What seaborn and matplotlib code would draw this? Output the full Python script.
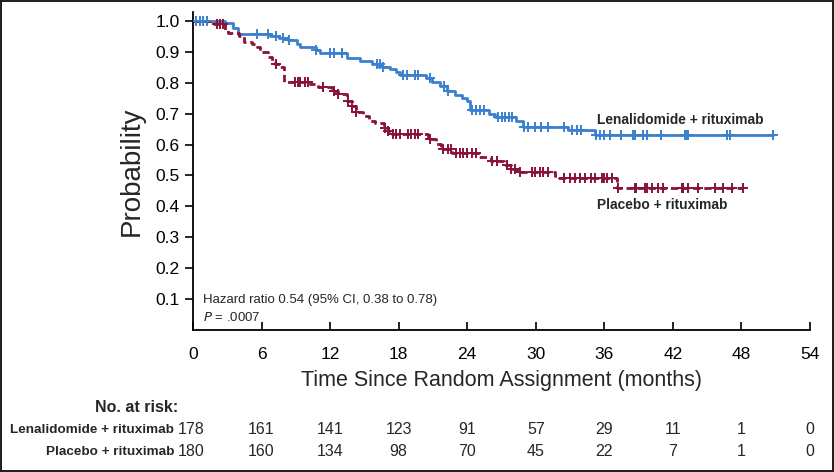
import numpy as np
import pandas as pd
import matplotlib
matplotlib.use("Agg")
import matplotlib.pyplot as plt
import seaborn as sns

# ---------------- data ----------------
len_times = [0, 2.8, 3.5, 3.9, 6.7, 7.5, 8.3, 9.1, 9.4, 10.8, 11.1, 13.5, 14.6, 15.7, 16.5,
             17.2, 17.8, 18.1, 20.4, 20.9, 21.6, 22.2, 22.9, 23.5, 24.0, 24.2, 25.9, 26.4,
             28.3, 28.9, 32.8, 35.2]
len_surv = [1.0, 0.994, 0.978, 0.958, 0.950, 0.944, 0.938, 0.925, 0.917, 0.906, 0.897, 0.880,
            0.870, 0.862, 0.852, 0.844, 0.834, 0.826, 0.815, 0.804, 0.789, 0.772, 0.760, 0.750,
            0.740, 0.713, 0.700, 0.688, 0.676, 0.658, 0.646, 0.630]
len_cens = [0.3, 0.6, 0.9, 1.2, 5.6, 6.6, 7.3, 7.9, 8.4, 10.8, 12.0, 12.3, 13.0, 16.1, 16.4,
            16.6, 18.4, 18.7, 19.4, 19.7, 20.7, 22.0, 22.3, 24.4, 24.8, 25.1, 25.5, 26.7, 27.0,
            27.3, 27.7, 27.9, 29.0, 29.3, 29.9, 30.5, 31.1, 32.5, 33.2, 33.6, 34.0, 35.3, 35.6,
            36.0, 36.5, 37.5, 38.5, 38.7, 39.4, 39.7, 41.0, 43.1, 43.2, 43.3, 46.7, 47.0, 50.8]

pla_times = [0, 1.8, 2.8, 3.1, 4.0, 4.5, 5.2, 5.6, 5.9, 6.6, 6.9, 7.2, 7.6, 8.0, 10.2, 10.9,
             12.2, 12.7, 13.5, 13.9, 14.3, 14.9, 15.4, 15.9, 16.7, 17.1, 17.4, 20.6, 21.3, 21.7,
             22.7, 24.9, 26.1, 27.2, 27.8, 28.4, 31.7, 32.0, 37.1]
pla_surv = [1.0, 0.989, 0.972, 0.961, 0.950, 0.933, 0.927, 0.915, 0.899, 0.882, 0.866, 0.860,
            0.852, 0.803, 0.797, 0.786, 0.775, 0.764, 0.741, 0.724, 0.707, 0.692, 0.676, 0.670,
            0.655, 0.643, 0.633, 0.618, 0.602, 0.586, 0.572, 0.561, 0.548, 0.535, 0.522, 0.512,
            0.498, 0.492, 0.460]
pla_cens = [2.1, 2.4, 2.6, 7.3, 8.9, 9.2, 9.4, 9.8, 10.1, 11.4, 12.3, 12.7, 13.6, 13.9, 14.3,
            16.8, 17.1, 17.5, 17.8, 18.1, 18.8, 19.1, 19.4, 19.7, 20.7, 21.9, 22.3, 22.6, 23.0,
            23.4, 23.6, 24.0, 24.4, 24.8, 26.2, 26.6, 27.5, 27.8, 28.2, 28.6, 29.7, 29.9, 30.4,
            30.6, 31.1, 32.5, 33.0, 33.4, 33.9, 34.3, 34.8, 35.2, 35.8, 36.0, 36.2, 36.7, 37.2,
            38.7, 38.8, 39.6, 39.7, 40.2, 40.7, 41.1, 42.8, 42.9, 43.3, 44.2, 45.7, 46.4, 47.2,
            48.1]

groups = ["Lenalidomide + rituximab", "Placebo + rituximab"]
risk_times = [0, 6, 12, 18, 24, 30, 36, 42, 48, 54]
risk_len = [178, 161, 141, 123, 91, 57, 29, 11, 1, 0]
risk_pla = [180, 160, 134, 98, 70, 45, 22, 7, 1, 0]
x_ticks = [0, 6, 12, 18, 24, 30, 36, 42, 48, 54]
y_ticks = [0.1, 0.2, 0.3, 0.4, 0.5, 0.6, 0.7, 0.8, 0.9, 1.0]

BLUE = "#3b80d0"
RED = "#8a1238"

# ---------------- style ----------------
sns.set_style("ticks")
plt.rcParams["font.family"] = ["Liberation Sans", "DejaVu Sans"]

fig = plt.figure(figsize=(8.34, 4.72), dpi=100)
fig.patch.set_edgecolor("#222222")
fig.patch.set_linewidth(1.5)
ax = fig.add_axes([193 / 834, (472 - 330) / 472, (810 - 193) / 834, (330 - 11.7) / 472])


def curve_df(times, surv, cens):
    t = list(times) + [max(cens)]
    s = list(surv) + [surv[-1]]
    return pd.DataFrame({"t": t, "s": s})


def cens_df(times, surv, cens):
    times = np.asarray(times)
    surv = np.asarray(surv)
    idx = np.searchsorted(times, np.asarray(cens), side="right") - 1
    return pd.DataFrame({"t": cens, "s": surv[idx]})


d_len = curve_df(len_times, len_surv, len_cens)
d_pla = curve_df(pla_times, pla_surv, pla_cens)

sns.lineplot(data=d_len, x="t", y="s", ax=ax, color=BLUE, lw=2, drawstyle="steps-post",
             estimator=None, sort=False)
sns.lineplot(data=d_pla, x="t", y="s", ax=ax, color=RED, lw=2, drawstyle="steps-post",
             estimator=None, sort=False, linestyle=(0, (2.6, 1.4)))

c_len = cens_df(len_times, len_surv, len_cens)
c_pla = cens_df(pla_times, pla_surv, pla_cens)
sns.scatterplot(data=c_len, x="t", y="s", ax=ax, marker="+", color=BLUE, s=45, linewidth=1.4,
                zorder=3)
sns.scatterplot(data=c_pla, x="t", y="s", ax=ax, marker="+", color=RED, s=45, linewidth=1.4,
                zorder=3)

ax.set_xlim(0, 54)
ax.set_ylim(0, 1.03)
ax.set_xticks(x_ticks)
ax.set_yticks(y_ticks)
ax.set_yticklabels([f"{v:.1f}" for v in y_ticks])
ax.tick_params(axis="x", direction="in", length=6, width=1.2, labelsize=12.5, pad=12, colors="black")
ax.tick_params(axis="y", direction="out", length=6, width=1.2, labelsize=12.5, colors="black")
for sp in ["top", "right"]:
    ax.spines[sp].set_visible(False)
for sp in ["left", "bottom"]:
    ax.spines[sp].set_linewidth(1.3)
    ax.spines[sp].set_color("black")

ax.set_xlabel("Time Since Random Assignment (months)", fontsize=15.5, labelpad=6)
ax.set_ylabel("Probability", fontsize=20, labelpad=8)

ax.text(35.4, 0.68, groups[0], fontsize=9.9, fontweight="bold", va="center", ha="left")
ax.text(35.4, 0.405, groups[1], fontsize=9.9, fontweight="bold", va="center", ha="left")
ax.text(0.85, 0.097, "Hazard ratio 0.54 (95% CI, 0.38 to 0.78)", fontsize=9.5, va="center")
ax.text(0.85, 0.039, "$\\it{P}$ = .0007", fontsize=9.5, va="center")

# risk table
trans = matplotlib.transforms.blended_transform_factory(ax.transData, fig.transFigure)
fig.text(178 / 834, (472 - 407) / 472, "No. at risk:", ha="right", va="center",
         fontsize=11.5, fontweight="bold")
for row, (lab, vals) in enumerate(zip(groups, [risk_len, risk_pla])):
    yy = (472 - (430 + 22 * row)) / 472
    fig.text(174 / 834, yy, lab, ha="right", va="center", fontsize=9.7, fontweight="bold")
    for t, v in zip(risk_times, vals):
        xx = t - 0.2 if t == 0 else t
        ax.text(xx, yy, str(v), transform=trans, ha="center", va="center", fontsize=11.5,
                clip_on=False)

fig.savefig("out.png", dpi=100)
